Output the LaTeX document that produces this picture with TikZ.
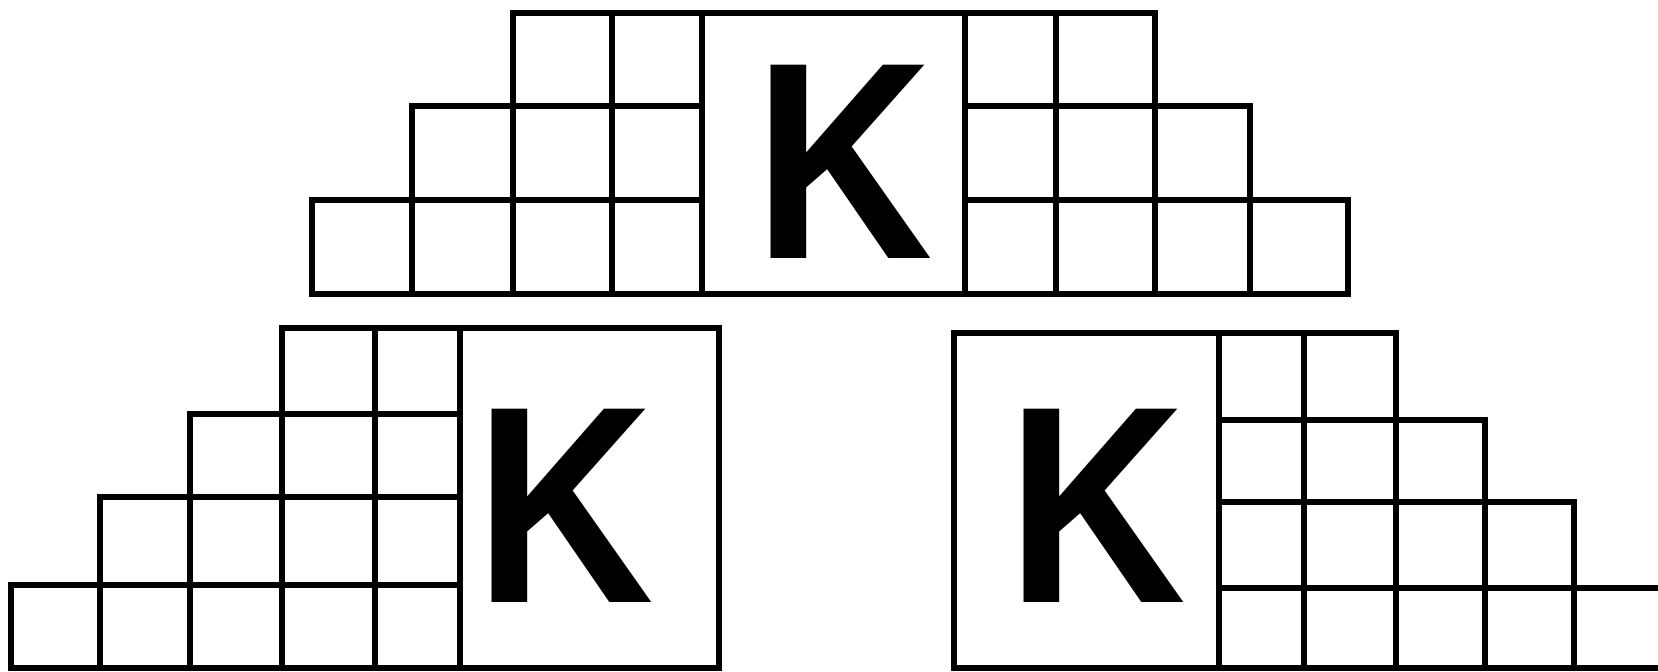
\documentclass[tikz,border=0pt]{standalone}
\usepackage{fontspec}
\newfontfamily\kfont{Liberation Sans}
\tikzset{
  cellline/.style={draw=black, line width=5.5pt, line join=miter},
  bigk/.style={inner sep=0pt, outer sep=0pt, font=\kfont\bfseries\fontsize{281pt}{281pt}\selectfont, anchor=base west}
}
\newcommand{\narrowK}{\scalebox{0.88}[1]{K}}
\begin{document}
\begin{tikzpicture}[x=1pt,y=-1pt]
\useasboundingbox[fill=white] (0,0) rectangle (1658,672);
% ---------- top structure ----------
\foreach \xa/\xb in {513/612,612/702,965/1056,1056/1155}
  \draw[cellline] (\xa,13) rectangle (\xb,106);
\foreach \xa/\xb in {412/513,513/612,612/702,965/1056,1056/1155,1155/1250}
  \draw[cellline] (\xa,106) rectangle (\xb,200);
\foreach \xa/\xb in {312/412,412/513,513/612,612/702,965/1056,1056/1155,1155/1250,1250/1348}
  \draw[cellline] (\xa,200) rectangle (\xb,294);
\draw[cellline] (702,13) rectangle (965,294);
\node[bigk] (ktop) at (754,258) {\narrowK};
% ---------- bottom left structure ----------
\foreach \xa/\xb in {282/375,375/460}
  \draw[cellline] (\xa,328) rectangle (\xb,414);
\foreach \xa/\xb in {190/282,282/375,375/460}
  \draw[cellline] (\xa,414) rectangle (\xb,497);
\foreach \xa/\xb in {100/190,190/282,282/375,375/460}
  \draw[cellline] (\xa,497) rectangle (\xb,585);
\foreach \xa/\xb in {11/100,100/190,190/282,282/375,375/460}
  \draw[cellline] (\xa,585) rectangle (\xb,668);
\draw[cellline] (460,328) rectangle (719,668);
\node[bigk] (kleft) at (475,602) {\narrowK};
% ---------- bottom right structure ----------
\foreach \xa/\xb in {1219/1304,1304/1396}
  \draw[cellline] (\xa,333) rectangle (\xb,420);
\foreach \xa/\xb in {1219/1304,1304/1396,1396/1485}
  \draw[cellline] (\xa,420) rectangle (\xb,502);
\foreach \xa/\xb in {1219/1304,1304/1396,1396/1485,1485/1574}
  \draw[cellline] (\xa,502) rectangle (\xb,588);
\foreach \xa/\xb in {1219/1304,1304/1396,1396/1485,1485/1574,1574/1665}
  \draw[cellline] (\xa,588) rectangle (\xb,668);
\draw[cellline] (954,333) rectangle (1219,668);
\node[bigk] (kright) at (1007,602) {\narrowK};
\end{tikzpicture}
\end{document}
